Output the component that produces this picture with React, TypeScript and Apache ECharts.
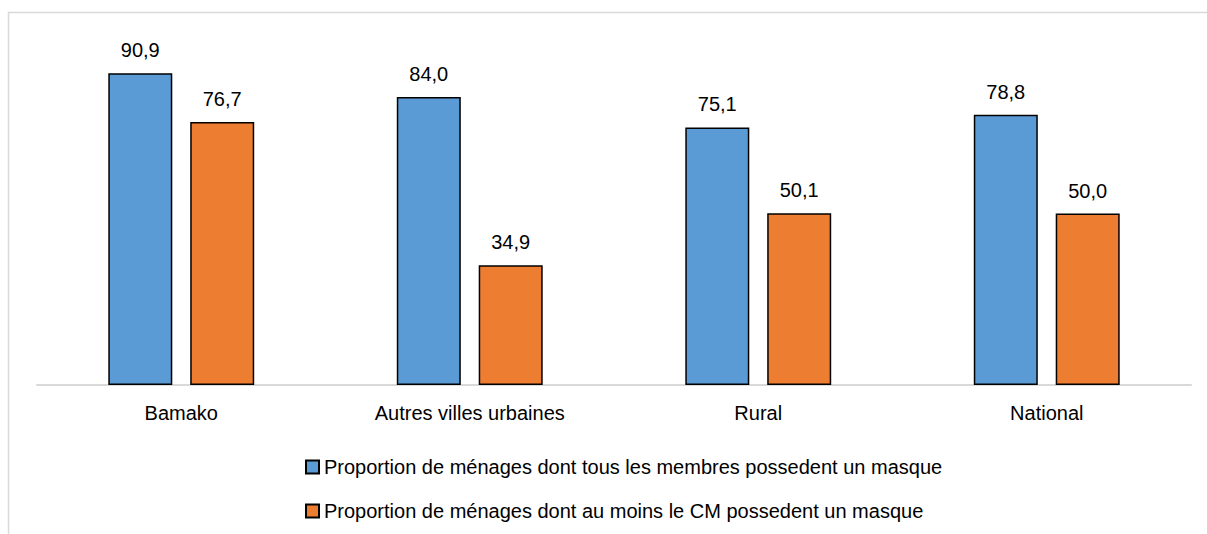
import React, { useEffect, useRef } from "react";
import * as echarts from "echarts";

const categories = ["Bamako", "Autres villes urbaines", "Rural", "National"];
const seriesNames = [
  "Proportion de ménages dont tous les membres possedent un masque",
  "Proportion de ménages dont au moins le CM possedent un masque",
];
const allMembers = [90.9, 84.0, 75.1, 78.8];
const atLeastHead = [76.7, 34.9, 50.1, 50.0];

const FONT = "'Liberation Sans', Arial, sans-serif";
const FS = 20;

export default function App() {
  const ref = useRef<HTMLDivElement>(null);
  useEffect(() => {
    document.body.style.margin = "0";
    const chart = echarts.init(ref.current!, null, { renderer: "svg" });
    const fmt = (p: any) => Number(p.value).toFixed(1).replace(".", ",");
    const label = {
      show: true,
      position: "top",
      distance: 13,
      color: "#000",
      fontFamily: FONT,
      fontSize: FS,
      formatter: fmt,
    };
    chart.setOption({
      animation: false,
      textStyle: { fontFamily: FONT },
      grid: { left: 37, right: 16, top: 42, bottom: 149, containLabel: false },
      legend: {
        orient: "vertical",
        left: 305,
        top: 457,
        padding: 0,
        itemWidth: 13,
        itemHeight: 13,
        itemGap: 24,
        textStyle: { fontFamily: FONT, fontSize: FS, color: "#000" },
        data: seriesNames.map((n) => ({ name: n, icon: "rect" })),
      },
      xAxis: {
        type: "category",
        data: categories,
        axisLine: { lineStyle: { color: "#d9d9d9", width: 2 } },
        axisTick: { show: false },
        axisLabel: { color: "#000", fontFamily: FONT, fontSize: FS, margin: 18 },
      },
      yAxis: { type: "value", min: 0, max: 100, show: false, splitLine: { show: false } },
      graphic: [
        {
          type: "rect",
          shape: { x: 8.5, y: 12.5, width: 1300, height: 700 },
          style: { fill: "none", stroke: "#d9d9d9", lineWidth: 1.5 },
          silent: true,
          z: -1,
        },
      ],
      series: [
        {
          name: seriesNames[0],
          type: "bar",
          data: allMembers,
          barWidth: 64,
          barGap: "28%",
          itemStyle: { color: "#5B9BD5", borderColor: "#000", borderWidth: 1.5 },
          label,
        },
        {
          name: seriesNames[1],
          type: "bar",
          data: atLeastHead,
          barWidth: 64,
          itemStyle: { color: "#ED7D31", borderColor: "#000", borderWidth: 1.5 },
          label,
        },
      ],
    });
    return () => chart.dispose();
  }, []);
  return <div ref={ref} style={{ width: 1207, height: 534 }} />;
}
